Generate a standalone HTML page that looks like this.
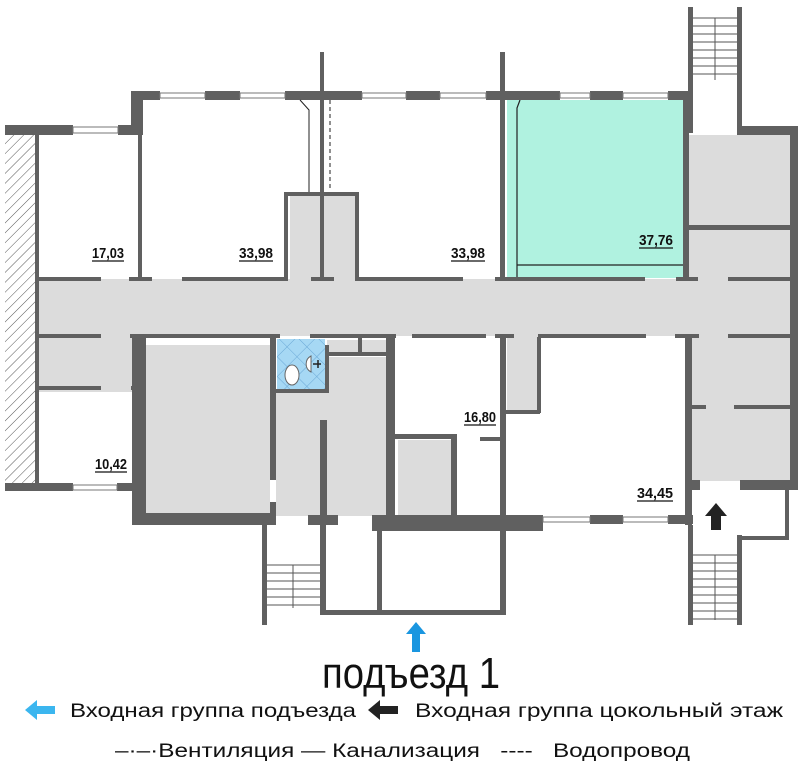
<!DOCTYPE html>
<html><head><meta charset="utf-8"><style>
html,body{margin:0;padding:0;background:#fff;width:806px;height:768px;overflow:hidden}
svg{display:block}
text{font-family:"Liberation Sans Narrow","Liberation Sans",sans-serif}
</style></head><body>
<svg width="806" height="768" viewBox="0 0 806 768" xmlns="http://www.w3.org/2000/svg">
<defs>
<pattern id="h" width="7" height="7" patternUnits="userSpaceOnUse" patternTransform="rotate(45)">
<line x1="0" y1="0" x2="0" y2="7" stroke="#555" stroke-width="1"/></pattern>
<pattern id="t" width="14" height="14" patternUnits="userSpaceOnUse" patternTransform="rotate(45)">
<rect width="14" height="14" fill="#a6d8f4"/><path d="M0 0H14M0 0V14" stroke="#6aa8d6" stroke-width="1"/></pattern>
</defs>
<g fill="#dcdcdc">
<rect x="39" y="279" width="751" height="57"/>
<rect x="39" y="336" width="98" height="56"/>
<rect x="146" y="345" width="124" height="168"/>
<rect x="276" y="390" width="110" height="126"/>
<rect x="327" y="357" width="60" height="40"/>
<rect x="290" y="196" width="66" height="85"/>
<rect x="398" y="440" width="55" height="76"/>
<rect x="507" y="336" width="33" height="77"/>
<rect x="689" y="135" width="101" height="145"/>
<rect x="692" y="336" width="98" height="145"/>
<rect x="327" y="340" width="60" height="12"/>
</g>
<rect x="507" y="100" width="177" height="178" fill="#b0f2e0"/>
<path d="M517 278V108L520 100M517 265H684" stroke="#222" stroke-width="1.2" fill="none"/>
<rect x="5" y="135" width="30" height="350" fill="url(#h)"/>
<rect x="277" y="339" width="48" height="51" fill="url(#t)"/>
<g fill="#606060">
<rect x="5" y="125" width="68" height="10"/><rect x="118" y="125" width="25" height="10"/>
<rect x="131" y="91" width="12" height="44"/>
<rect x="131" y="91" width="29" height="9"/><rect x="205" y="91" width="35" height="9"/>
<rect x="285" y="91" width="77" height="9"/><rect x="406" y="91" width="34" height="9"/>
<rect x="486" y="91" width="74" height="9"/><rect x="590" y="91" width="33" height="9"/>
<rect x="668" y="91" width="25" height="9"/>
<rect x="35" y="133" width="4" height="352"/>
<rect x="138" y="100" width="4" height="181"/>
<rect x="320" y="52" width="4" height="229"/>
<rect x="500" y="52" width="5" height="229"/>
<rect x="284" y="192" width="74" height="4"/><rect x="284" y="192" width="4" height="89"/><rect x="355" y="192" width="4" height="89"/>
<rect x="683" y="100" width="6" height="180"/>
<rect x="688" y="7" width="5" height="126"/><rect x="737" y="7" width="5" height="126"/>
<rect x="737" y="126" width="61" height="9"/><rect x="790" y="126" width="8" height="364"/>
<rect x="689" y="225" width="101" height="5"/>
<rect x="39" y="277" width="62" height="4"/><rect x="129" y="277" width="23" height="4"/>
<rect x="182" y="277" width="106" height="4"/><rect x="311" y="277" width="23" height="4"/>
<rect x="357" y="277" width="106" height="4"/><rect x="495" y="277" width="150" height="4"/>
<rect x="676" y="277" width="22" height="4"/><rect x="728" y="277" width="62" height="4"/>
<rect x="39" y="334" width="62" height="4"/><rect x="130" y="334" width="150" height="4"/>
<rect x="310" y="334" width="86" height="4"/><rect x="412" y="334" width="74" height="4"/>
<rect x="495" y="334" width="19" height="4"/><rect x="538" y="334" width="108" height="4"/>
<rect x="675" y="334" width="24" height="4"/><rect x="728" y="334" width="62" height="4"/>
<rect x="35" y="386" width="66" height="4"/><rect x="131" y="386" width="6" height="4"/>
<rect x="5" y="483" width="68" height="8"/><rect x="117" y="483" width="20" height="8"/>
<rect x="132" y="337" width="14" height="188"/><rect x="132" y="513" width="144" height="12"/>
<rect x="270" y="337" width="6" height="143"/><rect x="270" y="502" width="6" height="23"/>
<rect x="276" y="389" width="52" height="4"/><rect x="325" y="345" width="4" height="48"/>
<rect x="325" y="352" width="63" height="4"/><rect x="358" y="338" width="4" height="14"/>
<rect x="320" y="420" width="7" height="95"/>
<rect x="386" y="337" width="9" height="190"/>
<rect x="395" y="434" width="62" height="5"/><rect x="451" y="434" width="6" height="82"/>
<rect x="480" y="437" width="20" height="4"/>
<rect x="500" y="337" width="6" height="278"/>
<rect x="506" y="410" width="34" height="4"/><rect x="537" y="337" width="4" height="76"/>
<rect x="372" y="515" width="171" height="16"/><rect x="590" y="515" width="33" height="9"/><rect x="668" y="515" width="25" height="9"/>
<rect x="308" y="515" width="30" height="10"/><rect x="262" y="515" width="14" height="10"/>
<rect x="377" y="531" width="5" height="84"/><rect x="320" y="525" width="6" height="90"/>
<rect x="320" y="610" width="186" height="5"/>
<rect x="262" y="525" width="5" height="100"/>
<rect x="685" y="337" width="7" height="188"/><rect x="685" y="480" width="15" height="10"/>
<rect x="692" y="405" width="14" height="4"/><rect x="734" y="405" width="56" height="4"/>
<rect x="740" y="480" width="58" height="10"/>
<rect x="688" y="525" width="5" height="100"/><rect x="737" y="535" width="5" height="90"/>
<rect x="785" y="488" width="4" height="52"/><rect x="737" y="536" width="52" height="4"/>
</g>
<g stroke="#777" stroke-width="1" fill="#fff">
<rect x="73" y="127" width="45" height="6"/><rect x="160" y="93" width="45" height="5"/><rect x="240" y="93" width="45" height="5"/>
<rect x="362" y="93" width="44" height="5"/><rect x="440" y="93" width="46" height="5"/><rect x="560" y="93" width="30" height="5"/>
<rect x="623" y="93" width="45" height="5"/><rect x="73" y="485" width="44" height="5"/>
<rect x="543" y="517" width="47" height="5"/><rect x="623" y="517" width="45" height="5"/>
</g>
<g stroke="#555" stroke-width="1">
<path d="M693 18H737M693 26H737M693 34H737M693 42H737M693 50H737M693 58H737M693 66H737M693 74H737"/>
<path d="M715 18V80"/>
<path d="M693 555H737M693 563H737M693 571H737M693 579H737M693 587H737M693 595H737M693 603H737M693 611H737M693 619H737M715 555V620"/>
<path d="M267 565H320M267 573H320M267 581H320M267 589H320M267 597H320M267 605H320M293 565V608"/>
<path d="M300 100L309 110V192" fill="none" stroke="#222"/>
<path d="M330 100V190" stroke="#222" stroke-dasharray="4,3"/>
</g>
<ellipse cx="292" cy="375" rx="7" ry="10" fill="#fff" stroke="#666"/>
<path d="M311 356a9 9 0 0 0 0 16z" fill="#fff" stroke="#666"/>
<path d="M313 364h8M318 360v8" stroke="#222" stroke-width="1.5"/>
<path d="M716 503L727 516H721V530H711V516H705Z" fill="#222"/>
<path d="M416 622L426 634H420V652H412V634H406Z" fill="#1a96e0"/>
<g font-size="15" font-weight="bold" fill="#111" lengthAdjust="spacingAndGlyphs">
<text x="92" y="258" textLength="32" lengthAdjust="spacingAndGlyphs">17,03</text>
<text x="239" y="258" textLength="34" lengthAdjust="spacingAndGlyphs">33,98</text>
<text x="451" y="258" textLength="34" lengthAdjust="spacingAndGlyphs">33,98</text>
<text x="639" y="245" textLength="34" lengthAdjust="spacingAndGlyphs">37,76</text>
<text x="95" y="469" textLength="32" lengthAdjust="spacingAndGlyphs">10,42</text>
<text x="464" y="422" textLength="32" lengthAdjust="spacingAndGlyphs">16,80</text>
<text x="637" y="498" textLength="36" lengthAdjust="spacingAndGlyphs">34,45</text>
</g>
<g stroke="#111" stroke-width="1.2">
<path d="M92 261H124M239 261H273M451 261H485M639 248H673M95 472H127M464 425H496M637 501H673"/>
</g>
<text x="322" y="688" font-size="44" fill="#111" textLength="178" lengthAdjust="spacingAndGlyphs">подъезд 1</text>
<path d="M25 710L37 700V706H55V714H37V720Z" fill="#3bb6ef"/>
<text x="70" y="717" font-size="19" fill="#111" textLength="286" lengthAdjust="spacingAndGlyphs">Входная группа подъезда</text>
<path d="M368 710L380 700V706H398V714H380V720Z" fill="#222"/>
<text x="415" y="717" font-size="19" fill="#111" textLength="368" lengthAdjust="spacingAndGlyphs">Входная группа цокольный этаж</text>
<text x="115" y="757" font-size="19" fill="#111" textLength="575" lengthAdjust="spacingAndGlyphs">–·–·Вентиляция — Канализация&#160;&#160;&#160;----&#160;&#160;&#160;Водопровод</text>
</svg>
</body></html>
